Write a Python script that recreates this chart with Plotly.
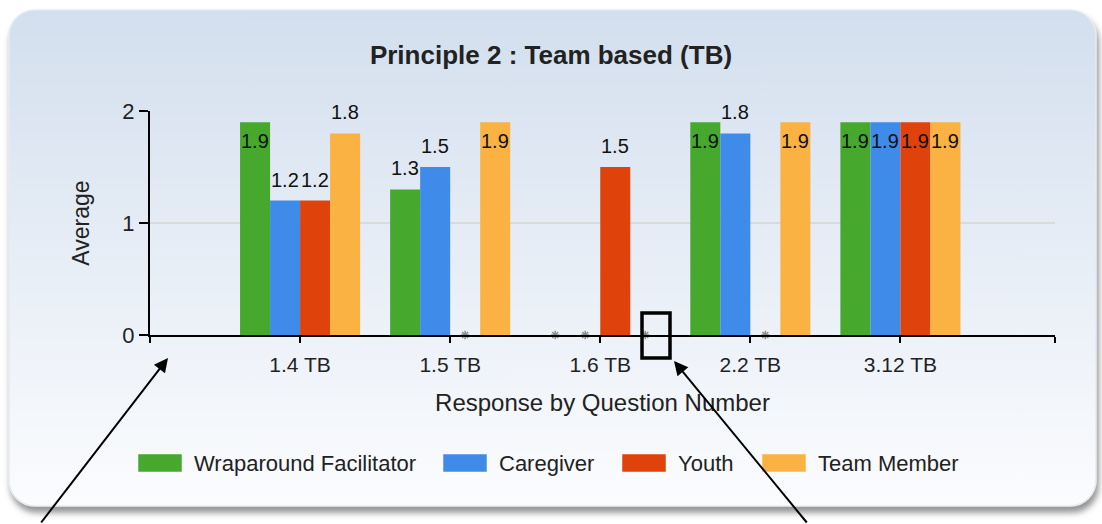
import base64

import plotly.graph_objects as go

# --- data ---------------------------------------------------------------
categories = ["1.4 TB", "1.5 TB", "1.6 TB", "2.2 TB", "3.12 TB"]
series_names = ["Wraparound Facilitator", "Caregiver", "Youth", "Team Member"]
wraparound = [1.9, 1.3, 0, 1.9, 1.9]
caregiver = [1.2, 1.5, 0, 1.8, 1.9]
youth = [1.2, 0, 1.5, 0, 1.9]
team_member = [1.8, 1.9, 0, 1.9, 1.9]
y_ticks = [0, 1, 2]

COLORS = ["#46a82d", "#3f8bea", "#df420b", "#fab242"]
FONT = "Arial, Liberation Sans, sans-serif"

# --- pixel geometry ------------------------------------------------------
W, H = 1102, 524
L, R, T, B = 150, 47, 111, 189
PW, PH = W - L - R, H - T - B


def px(x):
    return (x - L) / PW


def py(y):
    return (H - B - y) / PH


values = [wraparound, caregiver, youth, team_member]
idx = list(range(len(categories)))
x_end = 5.03
bar_w = 0.8 / len(series_names)

fig = go.Figure()

for i, (name, vals) in enumerate(zip(series_names, values)):
    fig.add_trace(
        go.Bar(
            x=idx,
            y=vals,
            name=name,
            marker=dict(color=COLORS[i], line=dict(width=0)),
            showlegend=False,
        )
    )

# value labels: inside the top of tall bars, above the others
miss_x, miss_y = [], []
for i, vals in enumerate(values):
    for j, v in enumerate(vals):
        xpos = idx[j] + (i - 1.5) * bar_w
        if v == 0:
            miss_x.append(xpos)
            miss_y.append(v)
            continue
        inside = v > 1.85
        fig.add_annotation(
            x=xpos,
            y=v,
            xref="x",
            yref="y",
            text=f"{v:.1f}",
            showarrow=False,
            xanchor="center",
            yanchor="top" if inside else "bottom",
            yshift=-6 if inside else 8,
            font=dict(family=FONT, size=20, color="#111111"),
        )

# grey asterisks where a group has no answer
fig.add_trace(
    go.Scatter(
        x=miss_x,
        y=miss_y,
        mode="markers",
        marker=dict(
            symbol="asterisk-open",
            size=7,
            color="#8a8a8a",
            line=dict(color="#8a8a8a", width=1.5),
        ),
        cliponaxis=False,
        showlegend=False,
        hoverinfo="skip",
    )
)

# background panel (rounded, gradient, drop shadow)
svg = f"""<svg xmlns='http://www.w3.org/2000/svg' width='{W}' height='{H}' viewBox='0 0 {W} {H}'>
<defs>
<linearGradient id='g' x1='0' y1='0' x2='0' y2='1'>
<stop offset='0' stop-color='#d3dfee'/><stop offset='1' stop-color='#fbfcfe'/>
</linearGradient>
<filter id='s' x='-5%' y='-5%' width='110%' height='115%'>
<feDropShadow dx='2' dy='6' stdDeviation='3' flood-color='#6f6f6f' flood-opacity='0.75'/>
</filter>
</defs>
<rect x='9' y='10' width='1087' height='496' rx='26' ry='26' fill='url(#g)' stroke='#e6ebf2' stroke-width='1.5' filter='url(#s)'/>
</svg>"""
src = "data:image/svg+xml;base64," + base64.b64encode(svg.encode()).decode()

fig.add_layout_image(
    source=src,
    xref="paper",
    yref="paper",
    x=px(0),
    y=py(0),
    sizex=W / PW,
    sizey=H / PH,
    xanchor="left",
    yanchor="top",
    sizing="stretch",
    layer="below",
)

# custom legend with wide swatches
legend_swatch_x = [138, 443, 622, 762]
for i, name in enumerate(series_names):
    x0 = legend_swatch_x[i]
    fig.add_shape(
        type="rect",
        xref="paper",
        yref="paper",
        x0=px(x0),
        x1=px(x0 + 44),
        y0=py(472),
        y1=py(454),
        fillcolor=COLORS[i],
        line=dict(width=0.5, color="#ffffff"),
    )
    fig.add_annotation(
        x=px(x0 + 54),
        y=py(463),
        xref="paper",
        yref="paper",
        text=name,
        showarrow=False,
        xanchor="left",
        yanchor="middle",
        font=dict(family=FONT, size=22, color="#222222"),
    )

# call-out box and arrows drawn over the chart
fig.add_shape(
    type="rect",
    xref="paper",
    yref="paper",
    x0=px(642),
    x1=px(670),
    y0=py(358),
    y1=py(313),
    line=dict(color="#000000", width=3.5),
)
for hx, hy, tx, ty in [(168, 358, 40, 528), (674, 361, 808, 528)]:
    fig.add_annotation(
        x=px(hx),
        y=py(hy),
        xref="paper",
        yref="paper",
        ax=tx - hx,
        ay=ty - hy,
        axref="pixel",
        ayref="pixel",
        text="",
        showarrow=True,
        arrowhead=2,
        arrowsize=1.4,
        arrowwidth=2,
        arrowcolor="#000000",
    )

fig.update_layout(
    width=W,
    height=H,
    margin=dict(l=L, r=R, t=T, b=B),
    paper_bgcolor="#ffffff",
    plot_bgcolor="#ffffff",
    barmode="group",
    bargap=0.2,
    bargroupgap=0,
    showlegend=False,
    font=dict(family=FONT, color="#222222"),
    title=dict(
        text="<b>Principle 2 : Team based (TB)</b>",
        font=dict(family=FONT, size=26, color="#222222"),
        x=0.5,
        xref="container",
        xanchor="center",
        y=1 - 55 / H,
        yref="container",
        yanchor="middle",
    ),
)

fig.update_xaxes(
    range=[-1, x_end],
    tickvals=[-1] + idx + [x_end],
    ticktext=[""] + categories + [""],
    showgrid=False,
    zeroline=False,
    showline=True,
    linecolor="#000000",
    linewidth=2,
    ticks="outside",
    ticklen=6,
    tickwidth=2,
    tickcolor="#000000",
    ticklabelstandoff=4,
    tickfont=dict(family=FONT, size=21, color="#222222"),
    title=dict(
        text="Response by Question Number",
        font=dict(family=FONT, size=24, color="#222222"),
        standoff=19,
    ),
    automargin=False,
)

fig.update_yaxes(
    range=[0, 2],
    tickvals=y_ticks,
    showgrid=True,
    gridcolor="#dadada",
    gridwidth=1.5,
    zeroline=False,
    showline=True,
    linecolor="#000000",
    linewidth=2,
    ticks="outside",
    ticklen=9,
    tickwidth=2,
    tickcolor="#000000",
    tickfont=dict(family=FONT, size=22, color="#222222"),
    title=dict(
        text="Average",
        font=dict(family=FONT, size=23, color="#222222"),
        standoff=26,
    ),
    automargin=False,
)

fig.write_html(
    "out.html",
    config={"displayModeBar": False},
    post_script="document.body.style.margin='0';document.body.style.padding='0';",
)
